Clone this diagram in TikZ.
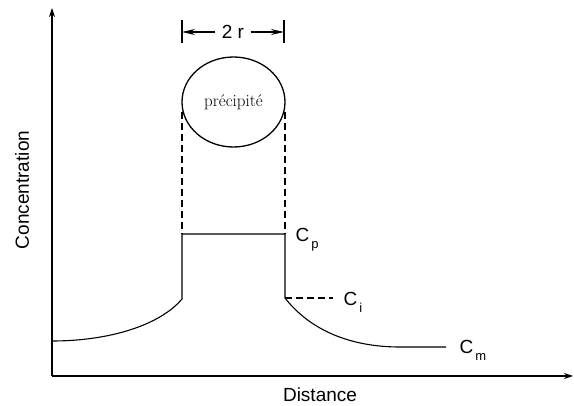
\documentclass[tikz,border=0pt]{standalone}
\usepackage{fontspec}
\newfontfamily\labfont{Liberation Sans}
\usetikzlibrary{shapes.geometric,arrows.meta}
\newcommand{\Cidx}[1]{C\hspace{2pt}\raisebox{-0.7ex}{\fontsize{13}{13}\selectfont #1}}
\begin{document}
\begin{tikzpicture}[x=1pt,y=-1pt,>={Stealth[length=9pt,width=6pt]},
    lbl/.style={font=\labfont\fontsize{19}{21}\selectfont},
    curve/.style={line width=1.1pt},
    dashline/.style={line width=1.1pt,dash pattern=on 7pt off 4pt},
    dimarrow/.style={line width=1.4pt,-{Stealth[length=13pt,width=6pt]}}]
\useasboundingbox (0,0) rectangle (574,406);

% axes
\coordinate (O) at (52,376);
\coordinate (ytop) at (52,8);
\coordinate (xend) at (573,376);
\draw[->,line width=1.2pt](O)--(ytop);
\draw[->,line width=1.2pt](O)--(xend);
\node[lbl,rotate=90] (conc) at (22,190) {Concentration};
\node[lbl] (dist) at (320,395) {Distance};

% concentration profile
\coordinate (a0) at (52,341);
\coordinate (a1) at (182,299);
\coordinate (a2) at (182,234);
\coordinate (a3) at (285,234);
\coordinate (a4) at (285,298);
\coordinate (a5) at (400,347);
\coordinate (a6) at (446,347);
\draw[curve](a0) .. controls (110,341) and (160,325) .. (a1)--(a2)--(a3)--(a4)
    .. controls (310,330) and (350,347) .. (a5)--(a6);
\coordinate (ci) at (333,298);
\draw[dashline](a4)--(ci);
\node[lbl,anchor=west] (cp) at (292,240) {\Cidx{p}};
\node[lbl,anchor=west] (clab) at (340,302) {\Cidx{i}};
\node[lbl,anchor=west] (cm) at (456,350) {\Cidx{m}};

% precipitate
\node[draw,ellipse,line width=1.3pt,inner sep=0pt,minimum width=103pt,minimum height=90pt,
    font=\fontsize{17}{19}\selectfont] (prec) at (233.5,102) {précipité};
\coordinate (p1) at (182,112);
\coordinate (p2) at (285,112);
\draw[dashline](p1)--(a2);
\draw[dashline](p2)--(a3);

% 2r
\coordinate (b1) at (182,20);
\coordinate (b2) at (182,43);
\coordinate (b3) at (284,20);
\coordinate (b4) at (284,43);
\draw[line width=1.4pt](b1)--(b2);
\draw[line width=1.4pt](b3)--(b4);
\node[lbl] (tr) at (233,32) {2 r};
\coordinate (l1) at (182,32);
\coordinate (l2) at (284,32);
\draw[dimarrow](tr.west)++(-3pt,0)--(l1);
\draw[dimarrow](tr.east)++(3pt,0)--(l2);

\end{tikzpicture}
\end{document}
